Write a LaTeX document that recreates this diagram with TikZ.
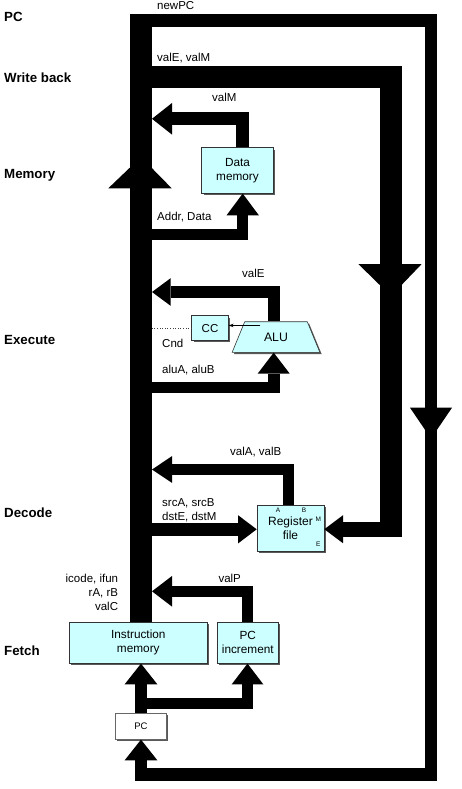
\documentclass[tikz,border=0pt]{standalone}
\usepackage{fontspec}
\setmainfont{Liberation Sans}
\usetikzlibrary{arrows.meta,shapes.geometric,shadows,calc}
\definecolor{boxfill}{HTML}{CCFFFF}
\begin{document}
\begin{tikzpicture}[x=1pt,y=-1pt,
  bus/.style={draw=black, line width=#1, line join=miter},
  ar/.style 2 args={-{Triangle[width=#1pt,length=#2pt,line width=0pt]}},
  hw/.style={draw=black!80, line width=0.6pt, fill=boxfill, inner sep=0pt, align=center,
    drop shadow={shadow xshift=1.8pt, shadow yshift=-1.8pt, fill=black!65, opacity=1},
    font=\fontsize{11.8}{13.8}\selectfont},
  lbl/.style={anchor=base west, inner sep=0pt, font=\fontsize{11.5}{13}\selectfont},
  lblr/.style={anchor=base east, inner sep=0pt, font=\fontsize{11.5}{13}\selectfont},
  stage/.style={anchor=base west, inner sep=0pt, font=\fontsize{13.3}{15}\selectfont\bfseries},
  port/.style={inner sep=0pt, font=\fontsize{6.5}{7}\selectfont}
]
\useasboundingbox (0,0) rectangle (462,789);
\fill[white] (0,0) rectangle (462,789);

% ---- boxes
\node[hw, minimum width=71.6pt, minimum height=45.6pt] (dmem) at (237.5,170.5) {Data\\memory};
\node[hw, minimum width=36.6pt, minimum height=24.8pt, font=\fontsize{11.5}{13}\selectfont] (cc) at (210,328.1) {CC};
\node[hw, trapezium, trapezium stretches=true, trapezium angle=60.7, minimum width=88pt, minimum height=30.6pt, font=\fontsize{12.3}{14}\selectfont] (alu) at (276,337) {ALU};
\node[hw, minimum width=67pt, minimum height=46pt, font=\fontsize{12}{14.5}\selectfont] (regf) at (290.5,528) {Register\\file};
\node[port] (pA) at (278,510.5) {A};
\node[port] (pB) at (304,510.5) {B};
\node[port] (pM) at (318.3,519.3) {M};
\node[port] (pE) at (318.3,544.3) {E};
\node[hw, minimum width=138pt, minimum height=41pt] (imem) at (138.3,642.8) {Instruction\\memory};
\node[hw, minimum width=61pt, minimum height=41pt] (pcinc) at (247.8,642.8) {PC\\increment};
\node[hw, fill=white, draw=black!60, minimum width=51pt, minimum height=26pt, font=\fontsize{9.5}{11}\selectfont] (pc) at (141,726.3) {PC};

% ---- named bus points
\coordinate (bustop) at (141,14);
\coordinate (npc) at (141,20.4);
\coordinate (npcR) at (431,20.4);
\coordinate (npcB) at (431,774.5);
\coordinate (wb) at (141,76.7);
\coordinate (wbR) at (391,76.7);
\coordinate (wbB) at (391,537);
\coordinate (wbE) at (401.7,529.2);
\coordinate (valMin) at (152,118.8);
\coordinate (addrin) at (152,234.5);
\coordinate (valEin) at (152,292);
\coordinate (aluAin) at (152,387.5);
\coordinate (valAin) at (152,469.5);
\coordinate (srcin) at (152,529.3);
\coordinate (valPin) at (152,591.3);
\coordinate (pcfork) at (141,703.7);

% ---- main buses
\draw[bus=22pt] (bustop |- imem.north) -- (bustop);
\draw[bus=12.3pt, ar={32.7}{20.7}] (npc) -- (npcR) -- (npcB) -- (npcB -| pc.south) -- (pc.south);
\draw[bus=22pt] (wb) -- (wbR) -- (wbB);
\draw[bus=15pt, ar={28}{18.7}] (wbE) -- (wbE -| regf.east);

% mid-path arrowheads
\fill (108.3,188.3) -- (171.7,188.3) -- (141,157) -- cycle;
\fill (358.3,264) -- (421.7,264) -- (391,296) -- cycle;
\fill (410,407.7) -- (452,407.7) -- (431,438.6) -- cycle;

% ---- connectors
\draw[bus=13pt, ar={31.6}{20}] ($(dmem.north)+(5.2,0)$) |- (valMin);
\draw[bus=11.5pt, ar={32.3}{21.7}] (addrin) -| ($(dmem.south)+(5.2,0)$);
\draw[bus=12pt, ar={27.7}{18.7}] ($(alu.north)+(-2.3,0)$) |- (valEin);
\draw[bus=11.6pt, ar={32}{21}] (aluAin) -| ($(alu.south)+(-2.3,0)$);
\draw[bus=11pt, ar={26.7}{20}] ($(regf.north)+(-1.7,0)$) |- (valAin);
\draw[bus=13.3pt, ar={28}{18.5}] (srcin) -- (srcin -| regf.west);
\draw[bus=11.2pt, ar={30.6}{20}] ($(pcinc.north)+(-0.3,0)$) |- (valPin);
\draw[bus=11.7pt, ar={32.7}{20.7}] (pc.north) -- (pc.north |- imem.south);
\draw[bus=10.7pt, ar={31.6}{20.7}] (pcfork) -| ($(pcinc.south)+(-0.3,0)$);

\coordinate (aluL) at ($(alu.north west)!0.13!(alu.south west)$);
\draw[-{Stealth[length=5pt,width=3.5pt]}, line width=0.6pt] (aluL) -- (aluL -| cc.east);
\draw[dotted, line width=0.6pt, black!75] (cc.west) -- (cc.west -| valEin);

% ---- labels
\node[lbl] (tnewpc) at (157,10) {newPC};
\node[lbl] (tvalem) at (157,62) {valE, valM};
\node[lbl] (tvalm) at (212,102) {valM};
\node[lbl] (taddr) at (157,220) {Addr, Data};
\node[lbl] (tvale) at (242,277) {valE};
\node[lbl] (tcnd) at (162,347) {Cnd};
\node[lbl] (talu) at (162,373) {aluA, aluB};
\node[lbl] (tvalab) at (230,455) {valA, valB};
\node[lbl] (tsrc) at (162,506) {srcA, srcB};
\node[lbl] (tdst) at (162,520) {dstE, dstM};
\node[lbl] (tvalp) at (218.3,582.5) {valP};
\node[lblr] (ticode) at (118.3,582.5) {icode, ifun};
\node[lblr] (trab) at (118.3,596) {rA, rB};
\node[lblr] (tvalc) at (118.3,610.5) {valC};

% ---- stage names
\node[stage] (sPC) at (4,22) {PC};
\node[stage] (sWB) at (4,83) {Write back};
\node[stage] (sMem) at (4,178.5) {Memory};
\node[stage] (sEx) at (4,344) {Execute};
\node[stage] (sDec) at (4,517) {Decode};
\node[stage] (sFet) at (4,655) {Fetch};
\end{tikzpicture}
\end{document}
